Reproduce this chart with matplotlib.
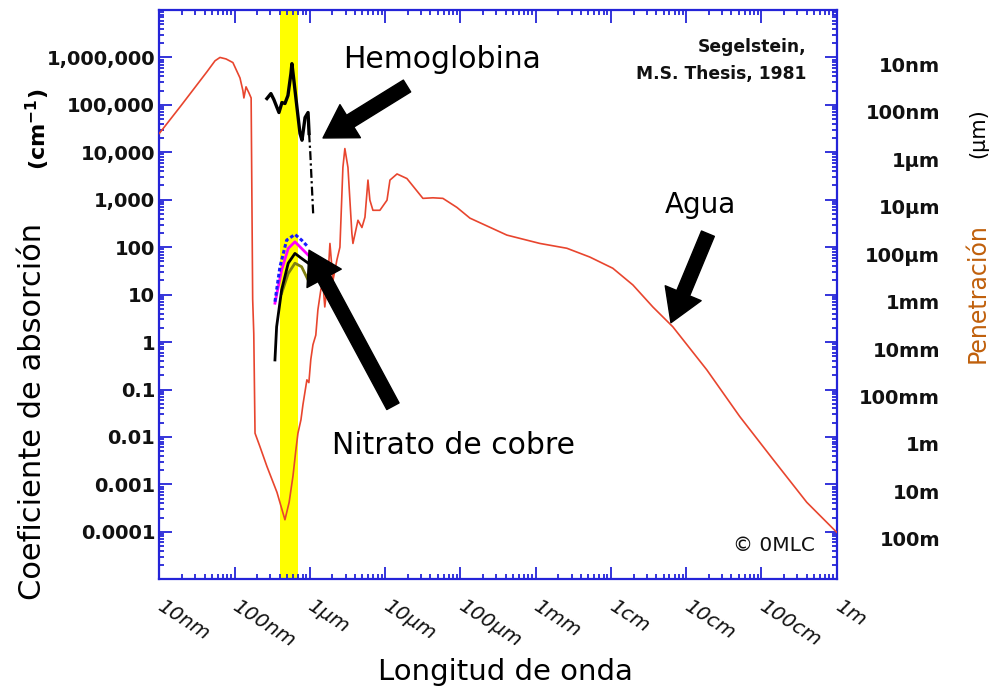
import matplotlib
matplotlib.use("Agg")
import matplotlib.pyplot as plt
from matplotlib.ticker import LogLocator, NullFormatter, FixedLocator, FixedFormatter
from matplotlib.transforms import blended_transform_factory, offset_copy

# Water absorption spectrum (Segelstein): wavelength in metres, absorption coefficient in cm^-1
water_wavelength = [
    1.00e-8, 1.9e-8, 4.3e-8, 5.5e-8, 6.4e-8, 7.7e-8, 9.5e-8, 1.18e-7, 1.29e-7, 1.33e-7,
    1.42e-7, 1.55e-7, 1.66e-7, 1.70e-7, 1.74e-7, 1.80e-7, 1.87e-7, 2.17e-7, 2.69e-7, 3.66e-7,
    4.67e-7, 5.31e-7, 5.97e-7, 6.54e-7, 6.95e-7, 7.62e-7, 8.1e-7, 9.14e-7, 9.71e-7, 1.03e-6,
    1.10e-6, 1.20e-6, 1.28e-6, 1.40e-6, 1.49e-6, 1.58e-6, 1.73e-6, 1.85e-6, 2.03e-6, 2.29e-6,
    2.51e-6, 2.75e-6, 2.92e-6, 3.21e-6, 3.62e-6, 3.74e-6, 4.36e-6, 4.92e-6, 5.40e-6, 5.92e-6,
    6.28e-6, 6.89e-6, 8.53e-6, 1.06e-5, 1.16e-5, 1.44e-5, 1.95e-5, 3.18e-5, 4.32e-5, 5.86e-5,
    9.0e-5, 1.34e-4, 4.15e-4, 1.14e-3, 2.6e-3, 5.25e-3, 1.06e-2, 1.96e-2, 3.61e-2, 6.65e-2,
    0.188, 0.515, 1.42, 4.0, 10.0,
]
water_alpha = [
    2.5e4, 9.2e4, 5.0e5, 8.5e5, 1.0e6, 9.3e5, 7.8e5, 3.7e5, 2.0e5, 1.4e5,
    2.4e5, 1.8e5, 1.4e5, 1.0e3, 8.0, 1.5, 1.2e-2, 6.3e-3, 2.4e-3, 6.8e-4,
    1.8e-4, 4.2e-4, 1.5e-3, 5.5e-3, 1.2e-2, 2.3e-2, 4.8e-2, 0.16, 0.14, 0.43,
    0.88, 1.4, 4.8, 12.6, 18.0, 5.5, 20.0, 120.0, 20.0, 54.0,
    100.0, 4.8e3, 1.2e4, 4.8e3, 195.0, 120.0, 370.0, 260.0, 430.0, 2.6e3,
    980.0, 600.0, 600.0, 980.0, 2.6e3, 3.5e3, 2.8e3, 1.07e3, 1.1e3, 1.07e3,
    690.0, 410.0, 180.0, 120.0, 95.0, 62.0, 36.0, 16.0, 5.5, 2.1,
    0.26, 0.027, 3.4e-3, 4.2e-4, 9.8e-5,
]

# Hemoglobin
hb_wavelength = [2.69e-7, 3.04e-7, 3.33e-7, 3.66e-7, 3.89e-7, 4.26e-7, 4.67e-7, 5.12e-7,
                 5.61e-7, 5.78e-7, 6.15e-7, 6.75e-7, 7.40e-7, 7.87e-7, 8.12e-7, 8.64e-7,
                 9.47e-7, 9.77e-7]
hb_alpha = [1.36e5, 1.73e5, 1.29e5, 8.8e4, 6.9e4, 1.12e5, 1.07e5, 1.58e5,
            4.6e5, 7.4e5, 3.2e5, 8.8e4, 2.5e4, 1.8e4, 2.6e4, 5.4e4,
            6.9e4, 2.5e4]
hb_tail_wavelength = [9.77e-7, 1.01e-6, 1.06e-6, 1.11e-6]
hb_tail_alpha = [2.5e4, 1.1e4, 2.2e3, 470.0]

# Copper nitrate solutions
cu_wavelength = [3.44e-7, 4.01e-7, 4.92e-7, 6.34e-7, 7.78e-7, 9.53e-7]
cu_blue = [7.1, 38.7, 141.0, 186.0, 141.0, 100.0]
cu_magenta_wavelength = [3.44e-7, 4.22e-7, 5.16e-7, 6.34e-7, 7.78e-7, 9.53e-7]
cu_magenta = [6.6, 33.0, 94.0, 130.0, 94.0, 68.0]
cu_black_wavelength = [3.44e-7, 3.62e-7, 4.22e-7, 5.16e-7, 6.34e-7, 7.78e-7, 9.53e-7]
cu_black = [0.42, 2.1, 12.6, 46.0, 74.0, 58.0, 46.0]
cu_olive_wavelength = [4.22e-7, 5.16e-7, 6.34e-7, 7.78e-7, 9.53e-7]
cu_olive = [10.7, 28.0, 46.0, 38.7, 20.0]

visible_band = (4.0e-7, 7.0e-7)

x_ticks = [1e-8, 1e-7, 1e-6, 1e-5, 1e-4, 1e-3, 1e-2, 1e-1, 1e0, 1e1]
x_tick_labels = ["10nm", "100nm", "1µm", "10µm", "100µm", "1mm", "1cm", "10cm", "100cm", "1m"]
y_ticks = [1e-4, 1e-3, 1e-2, 1e-1, 1e0, 1e1, 1e2, 1e3, 1e4, 1e5, 1e6]
y_tick_labels = ["0.0001", "0.001", "0.01", "0.1", "1", "10", "100", "1,000",
                 "10,000", "100,000", "1,000,000"]
depth_labels = ["100m", "10m", "1m", "100mm", "10mm", "1mm", "100µm", "10µm",
                "1µm", "100nm", "10nm"]

frame_blue = "#2424d8"
water_red = "#e8452e"

plt.rcParams["font.family"] = ["DejaVu Sans"]

fig = plt.figure(figsize=(9.92, 6.92), dpi=100)
W, H = 992, 692
ax = fig.add_axes([159.3 / W, 1 - 579.3 / H, 677.4 / W, 569.3 / H])
ax.set_xscale("log")
ax.set_yscale("log")
ax.set_xlim(1e-8, 1e1)
ax.set_ylim(1e-5, 1e7)

ax.axvspan(*visible_band, color="#ffff00", zorder=1, lw=0)

ax.plot(water_wavelength, water_alpha, color=water_red, lw=1.2, zorder=3)
ax.plot(hb_wavelength, hb_alpha, color="black", lw=2.4, zorder=4)
ax.plot(hb_tail_wavelength, hb_tail_alpha, color="black", lw=1.6,
        ls=(0, (4, 1.5, 1, 1.5)), zorder=4)
ax.plot(cu_olive_wavelength, cu_olive, color="#808010", lw=2.0, zorder=4)
ax.plot(cu_black_wavelength, cu_black, color="black", lw=2.0, zorder=5)
ax.plot(cu_magenta_wavelength, cu_magenta, color="#ff00ff", lw=2.0, zorder=5)
ax.plot(cu_wavelength, cu_blue, color="#1a1aff", lw=2.2, ls=(0, (1.2, 0.8)), zorder=6)

# Frame and ticks
for sp in ax.spines.values():
    sp.set_color(frame_blue)
    sp.set_linewidth(1.6)
ax.xaxis.set_major_locator(FixedLocator(x_ticks))
ax.xaxis.set_major_formatter(NullFormatter())
ax.xaxis.set_minor_locator(LogLocator(base=10, subs=range(2, 10), numticks=30))
ax.xaxis.set_minor_formatter(NullFormatter())
ax.yaxis.set_major_locator(FixedLocator(y_ticks))
ax.yaxis.set_major_formatter(FixedFormatter(y_tick_labels))
ax.yaxis.set_minor_locator(LogLocator(base=10, subs=range(2, 10), numticks=30))
ax.yaxis.set_minor_formatter(NullFormatter())
ax.tick_params(which="both", direction="in", top=True, right=True, color=frame_blue, width=1.3)
ax.tick_params(which="major", length=9)
ax.tick_params(which="minor", length=3.5)
ax.tick_params(axis="y", which="major", pad=3, labelsize=14)
for lbl in ax.get_yticklabels():
    lbl.set_fontweight("bold")
    lbl.set_color("#111111")

# Slanted wavelength labels under the bottom axis
xtrans = offset_copy(blended_transform_factory(ax.transData, ax.transAxes),
                     fig=fig, x=5, y=-17, units="dots")
for v, lab in zip(x_ticks, x_tick_labels):
    ax.text(v, 0, lab, transform=xtrans, ha="left", va="top", rotation=-33,
            rotation_mode="anchor", fontsize=14.5, style="italic", color="#111111",
            clip_on=False)

# Penetration depth scale on the right
trans = offset_copy(blended_transform_factory(ax.transAxes, ax.transData),
                    fig=fig, x=0, y=-9, units="dots")
for v, lab in zip(y_ticks, depth_labels):
    ax.text(1.1525, v, lab, transform=trans, ha="right", va="center",
            fontsize=14, fontweight="bold", color="#111111", clip_on=False)

# Axis titles
fig.text(505 / W, 1 - 672 / H, "Longitud de onda", ha="center", va="center", fontsize=21)
fig.text(33 / W, 1 - 411 / H, "Coeficiente de absorción", ha="center", va="center",
         rotation=90, fontsize=22)
fig.text(38 / W, 1 - 129 / H, "(cm$^{\\mathbf{-1}}$)", ha="center", va="center",
         rotation=90, fontsize=16, fontweight="bold")
fig.text(978 / W, 1 - 293 / H, "Penetración", ha="center", va="center",
         rotation=90, fontsize=17, color="#c0600c")
fig.text(978 / W, 1 - 133 / H, "(µm)", ha="center", va="center",
         rotation=90, fontsize=15)

# Notes
ax.text(0.955, 0.935, "Segelstein,", transform=ax.transAxes, ha="right", va="center",
        fontsize=12.3, fontweight="bold", color="#111111")
ax.text(0.955, 0.888, "M.S. Thesis, 1981", transform=ax.transAxes, ha="right", va="center",
        fontsize=12.3, fontweight="bold", color="#111111")
ax.text(0.968, 0.06, "© 0MLC", transform=ax.transAxes, ha="right", va="center",
        fontsize=14.5, color="#111111")

# Labelled arrows
arrow_kw = dict(arrowstyle="simple,head_length=1.15,head_width=1.4,tail_width=0.5",
                color="black", mutation_scale=20, shrinkA=0, shrinkB=0)
ax.annotate("", xy=(0.2417, 0.7752), xytext=(0.3657, 0.8665), xycoords="axes fraction",
            textcoords="axes fraction", arrowprops=arrow_kw, zorder=7)
ax.annotate("", xy=(0.2210, 0.5781), xytext=(0.3449, 0.3040), xycoords="axes fraction",
            textcoords="axes fraction", arrowprops=arrow_kw, zorder=7)
ax.annotate("", xy=(0.7553, 0.4507), xytext=(0.8099, 0.6071), xycoords="axes fraction",
            textcoords="axes fraction", arrowprops=arrow_kw, zorder=7)
fig.text(442 / W, 1 - 60 / H, "Hemoglobina", ha="center", va="center", fontsize=21.5)
fig.text(454 / W, 1 - 445 / H, "Nitrato de cobre", ha="center", va="center", fontsize=21.5)
fig.text(700 / W, 1 - 205 / H, "Agua", ha="center", va="center", fontsize=20)

fig.savefig("out.png", dpi=100)
